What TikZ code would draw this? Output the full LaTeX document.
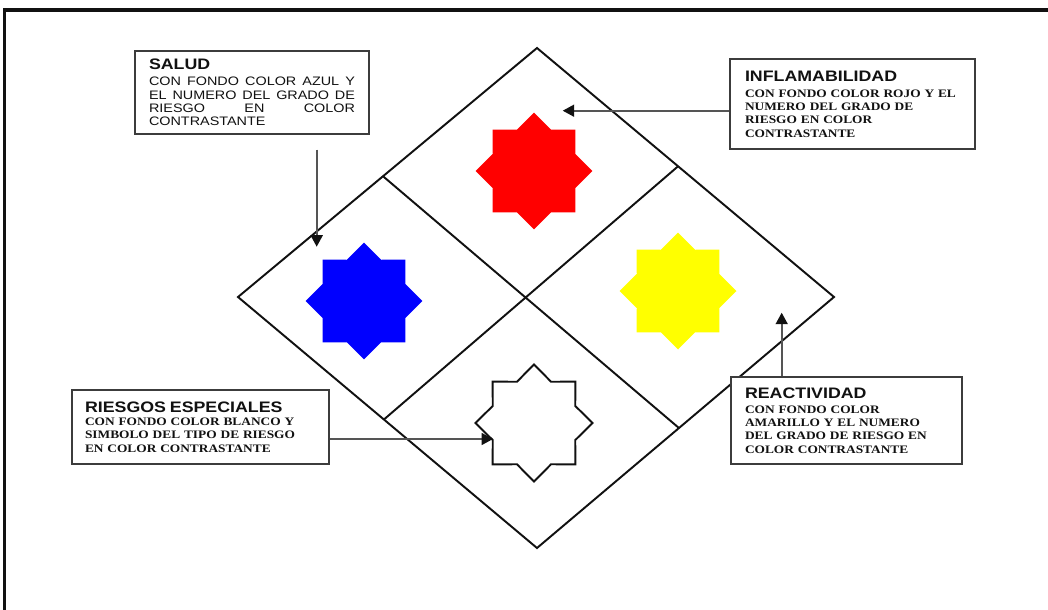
\documentclass[tikz,border=0pt]{standalone}
\usepackage{fontspec}
\usepackage{tikz}
\usetikzlibrary{arrows.meta,positioning,calc,shapes.geometric}
\newfontfamily\headfont[FakeStretch=1.17]{Liberation Sans}
\newfontfamily\bodyfont[FakeStretch=1.17]{Liberation Serif}
\definecolor{ink}{HTML}{111111}
\definecolor{frameline}{HTML}{3C3C3C}
\definecolor{leader}{HTML}{555555}
\definecolor{hazred}{RGB}{255,0,0}
\definecolor{hazblue}{RGB}{0,0,255}
\definecolor{hazyellow}{RGB}{255,255,0}

\begin{document}
\begin{tikzpicture}[x=0.02cm,y=-0.02cm,
    note/.style={draw=frameline,line width=0.8pt,fill=white,align=left,
                 inner xsep=0.28cm,inner ysep=0pt,text=ink,
                 font=\fontsize{6.6}{7.55}\selectfont},
    hazstar/.style={star,star points=8,star point ratio=1.31,
                    minimum size=2.34cm,inner sep=0pt},
    pointer/.style={draw=leader,line width=1pt,
                    -{Triangle[length=0.23cm,width=0.24cm,color=ink]}}]
  \useasboundingbox (0,0) rectangle (1048,609);
  \draw[ink,line width=1.9pt] (1060,10) -- (4.5,10) -- (4.5,620);
  % rombo
  \coordinate (T) at (537,48);
  \coordinate (R) at (834,297);
  \coordinate (B) at (537,548);
  \coordinate (L) at (238,297);
  \draw[ink,line width=1.1pt] (T) -- (R) -- (B) -- (L) -- cycle;
  \draw[ink,line width=1.1pt] ($(T)!0.515!(L)$) -- ($(R)!0.522!(B)$)
                              ($(T)!0.475!(R)$) -- ($(L)!0.488!(B)$);
  \node[hazstar,fill=hazred] (rojo) at (534,171) {};
  \node[hazstar,fill=hazblue] (azul) at (364,301) {};
  \node[hazstar,fill=hazyellow] (amarillo) at (678,291) {};
  \node[hazstar,draw=ink,line width=1.1pt,fill=white] (blanco) at (534,423) {};
  % recuadros
  \node[note,text width=4.12cm,minimum height=1.66cm] (salud) at (252,92.5) {%
    \headfont\bfseries\fontsize{8.65}{7.55}\selectfont SALUD\\[1.5pt]
    \mdseries\fontsize{7}{7.55}\selectfont
    CON\hfill FONDO\hfill COLOR\hfill AZUL\hfill Y\\
    EL\hfill NUMERO\hfill DEL\hfill GRADO\hfill DE\\
    RIESGO\hfill EN\hfill COLOR\\
    CONTRASTANTE};
  \node[note,text width=4.3cm,inner xsep=0.3cm,minimum height=1.8cm] (inflam)
    at (852.5,104) {%
    \headfont\bfseries\fontsize{8.65}{7.55}\selectfont INFLAMABILIDAD\\[1.5pt]
    \bodyfont\fontsize{6.5}{7.55}\selectfont
    CON FONDO COLOR ROJO Y EL\\
    NUMERO DEL GRADO DE\\
    RIESGO EN COLOR\\
    CONTRASTANTE};
  \node[note,text width=4.62cm,inner xsep=0.26cm,minimum height=1.48cm] (riesgos)
    at (200.5,427) {%
    \headfont\bfseries\fontsize{8.65}{7.55}\selectfont RIESGOS ESPECIALES\\[0pt]
    \bodyfont\fontsize{6.5}{7.55}\selectfont
    CON FONDO COLOR BLANCO Y\\
    SIMBOLO DEL TIPO DE RIESGO\\
    EN COLOR CONTRASTANTE};
  \node[note,text width=4.06cm,minimum height=1.74cm] (react) at (846.5,420.5) {%
    \headfont\bfseries\fontsize{8.65}{7.55}\selectfont REACTIVIDAD\\[1pt]
    \bodyfont\fontsize{6.5}{7.55}\selectfont
    CON FONDO COLOR\\
    AMARILLO Y EL NUMERO\\
    DEL GRADO DE RIESGO EN\\
    COLOR CONTRASTANTE};
  % flechas
  \coordinate (salud-tip) at (316.7,246.7);
  \coordinate (inflam-tip) at (562.7,110.7);
  \coordinate (riesgos-tip) at (493,439);
  \coordinate (react-tip) at (781.7,312.7);
  \draw[pointer] ($(salud.south -| salud-tip)+(0,15)$) -- (salud-tip);
  \draw[pointer] (inflam.west |- inflam-tip) -- (inflam-tip);
  \draw[pointer] (riesgos.east |- riesgos-tip) -- (riesgos-tip);
  \draw[pointer] (react.north -| react-tip) -- (react-tip);
\end{tikzpicture}
\end{document}
